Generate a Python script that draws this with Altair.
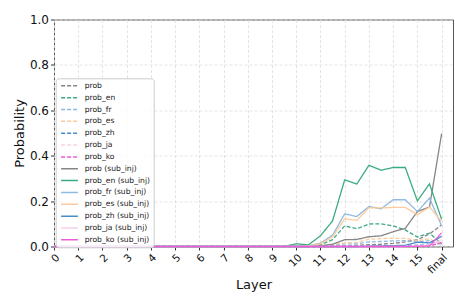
import altair as alt
import pandas as pd

# x positions: 33 sub-layer steps, ticks 0..15 and "final" (=16)
x_pos = [i / 2 for i in range(33)]
tick_values = list(range(17))
tick_labels = ["0", "1", "2", "3", "4", "5", "6", "7", "8", "9",
               "10", "11", "12", "13", "14", "15", "final"]

Z19 = [0.0] * 19  # all series are zero through layer 9

prob =        Z19 + [0, 0, 0, 0, 0, 0.003, 0.005, 0.008, 0.010, 0.014, 0.020, 0.030, 0.055, 0.095]
prob_en =     Z19 + [0, 0, 0.002, 0.008, 0.030, 0.091, 0.078, 0.099, 0.100, 0.091, 0.073, 0.042, 0.059, 0.012]
prob_fr =     Z19 + [0, 0, 0, 0.002, 0.006, 0.012, 0.012, 0.020, 0.022, 0.025, 0.026, 0.020, 0.026, 0.005]
prob_es =     Z19 + [0, 0, 0, 0.003, 0.008, 0.016, 0.018, 0.032, 0.035, 0.036, 0.036, 0.026, 0.034, 0.007]
prob_zh =     Z19 + [0, 0, 0, 0, 0, 0, 0, 0, 0, 0.002, 0.003, 0.006, 0.006, 0.012]
prob_ja =     Z19 + [0, 0, 0, 0, 0, 0, 0, 0, 0, 0, 0, 0.002, 0.004, 0.010]
prob_ko =     Z19 + [0, 0, 0, 0, 0, 0, 0, 0, 0, 0, 0, 0.001, 0.003, 0.018]
prob_si =     Z19 + [0, 0, 0, 0.003, 0.010, 0.030, 0.031, 0.043, 0.047, 0.065, 0.080, 0.154, 0.174, 0.497]
prob_en_si =  Z19 + [0, 0.012, 0.007, 0.047, 0.113, 0.294, 0.275, 0.358, 0.336, 0.348, 0.348, 0.201, 0.276, 0.120]
prob_fr_si =  Z19 + [0, 0, 0.003, 0.015, 0.050, 0.144, 0.132, 0.176, 0.166, 0.206, 0.206, 0.154, 0.213, 0.091]
prob_es_si =  Z19 + [0, 0, 0.003, 0.012, 0.042, 0.122, 0.115, 0.170, 0.170, 0.172, 0.172, 0.140, 0.174, 0.110]
prob_zh_si =  Z19 + [0, 0, 0, 0, 0, 0, 0, 0.002, 0.003, 0.004, 0.005, 0.019, 0.016, 0.045]
prob_ja_si =  Z19 + [0, 0, 0, 0, 0, 0, 0, 0, 0, 0, 0, 0.002, 0.006, 0.030]
prob_ko_si =  Z19 + [0, 0, 0, 0, 0, 0, 0, 0, 0, 0, 0, 0.001, 0.002, 0.060]

series_names = ["prob", "prob_en", "prob_fr", "prob_es", "prob_zh", "prob_ja", "prob_ko",
                "prob (sub_inj)", "prob_en (sub_inj)", "prob_fr (sub_inj)", "prob_es (sub_inj)",
                "prob_zh (sub_inj)", "prob_ja (sub_inj)", "prob_ko (sub_inj)"]
series_values = [prob, prob_en, prob_fr, prob_es, prob_zh, prob_ja, prob_ko,
                 prob_si, prob_en_si, prob_fr_si, prob_es_si, prob_zh_si, prob_ja_si, prob_ko_si]

base_colors = ["#7f7f7f", "#31a77c", "#8ab6e0", "#fdc898", "#4186c6", "#f9d0e5", "#ee55d8"]
colors = base_colors + base_colors
dashes = [[4, 2]] * 7 + [[1, 0]] * 7

rows = []
for k, (name, vals) in enumerate(zip(series_names, series_values)):
    for x, v in zip(x_pos, vals):
        rows.append({"layer": x, "probability": v, "series": name, "order": k})
df = pd.DataFrame(rows)

legend = alt.Legend(
    title=None, orient="none", legendX=1.7, legendY=58.8,
    symbolType="M-0.7,0L4.9,0", symbolSize=36, symbolStrokeWidth=1.5,
    labelFontSize=7.6, labelFont="DejaVu Sans", labelColor="#222",
    labelOffset=17.5, rowPadding=3.85, padding=3.5,
    fillColor="rgba(255,255,255,0.85)", strokeColor="#cccccc", cornerRadius=3,
)

label_expr = "datum.value == 16 ? 'final' : datum.value"

chart = alt.Chart(df).mark_line(strokeWidth=1.3, opacity=0.95).encode(
    x=alt.X("layer:Q", title="Layer",
            scale=alt.Scale(domain=[0, 16.47], nice=False, zero=False),
            axis=alt.Axis(values=tick_values, labelExpr=label_expr, labelAngle=-45,
                          labelAlign="right", labelBaseline="top",
                          labelFontSize=10.5, titleFontSize=13, titlePadding=3,
                          tickSize=3.5, grid=True)),
    y=alt.Y("probability:Q", title="Probability",
            scale=alt.Scale(domain=[0, 1], nice=False),
            axis=alt.Axis(values=[0, 0.2, 0.4, 0.6, 0.8, 1.0], format=".1f",
                          labelFontSize=12, titleFontSize=13, titlePadding=3,
                          tickSize=3.5, labelPadding=2, grid=True)),
    color=alt.Color("series:N", scale=alt.Scale(domain=series_names, range=colors), legend=legend),
    strokeDash=alt.StrokeDash("series:N", scale=alt.Scale(domain=series_names, range=dashes), legend=legend),
    order=alt.Order("layer:Q"),
    detail="series:N",
).properties(
    width=399, height=227,
    autosize=alt.AutoSizeParams(type="none"),
    padding={"left": 46, "top": 11.5, "right": 6, "bottom": 52},
).configure(
    font="DejaVu Sans",
).configure_axis(
    domain=False, gridColor="#dddddd", gridDash=[3, 2], gridWidth=0.8,
    tickColor="#333", labelColor="#111", titleColor="#111", titleFontWeight="normal",
).configure_view(
    stroke="#555", strokeWidth=1,
)

chart.save("out.html", embed_options={"renderer": "svg", "actions": False})
